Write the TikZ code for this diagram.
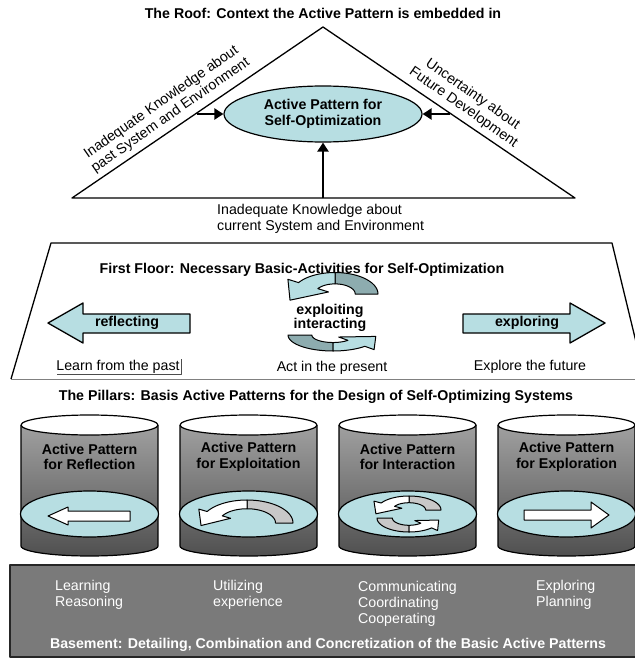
\documentclass[tikz,border=0pt]{standalone}
\usepackage{fontspec}
\setmainfont{Liberation Sans}
\usetikzlibrary{arrows.meta,shapes.geometric}
\definecolor{lblue}{RGB}{183,222,226}
\definecolor{dteal}{RGB}{141,172,175}
\definecolor{lgray}{RGB}{200,200,200}
\definecolor{bgray}{RGB}{122,122,122}
\definecolor{ptop}{RGB}{160,160,160}
\definecolor{pmid}{RGB}{236,236,236}
\definecolor{pbot}{RGB}{80,80,80}

% curved band arrow: #1 cx, #2 cy, #3 sx, #4 sy, #5 rotation, #6 inner ratio, #7 head angle, #8 tail colour, #9 head colour
\newcommand{\bandarrow}[9]{%
 \begin{scope}[shift={(#1,#2)},xscale=#3,yscale=-#4,rotate=#5]
  \pgfmathsetmacro\baC{cos(#7)}\pgfmathsetmacro\baS{sin(#7)}
  \pgfmathsetmacro\baOx{\baC}\pgfmathsetmacro\baOy{0.5*\baS}
  \pgfmathsetmacro\baIx{#6*\baC}\pgfmathsetmacro\baIy{0.5*#6*\baS}
  \pgfmathsetmacro\baDx{\baOx-\baIx}\pgfmathsetmacro\baDy{\baOy-\baIy}
  \pgfmathsetmacro\baDl{sqrt((\baDx)*(\baDx)+(\baDy)*(\baDy))}
  \pgfmathsetmacro\baTx{-\baS}\pgfmathsetmacro\baTy{0.5*\baC}
  \pgfmathsetmacro\baTl{sqrt((\baTx)*(\baTx)+(\baTy)*(\baTy))}
  \pgfmathsetmacro\baPx{0.5*(\baOx+\baIx)+1.15*\baDl*(\baTx)/\baTl}
  \pgfmathsetmacro\baPy{0.5*(\baOy+\baIy)+1.15*\baDl*(\baTy)/\baTl}
  \filldraw[fill=#8,line width=1pt] plot[domain=0:90,samples=19] ({cos(\x)},{0.5*sin(\x)}) -- plot[domain=90:0,samples=19] ({#6*cos(\x)},{0.5*#6*sin(\x)}) -- cycle;
  \filldraw[fill=#9,line width=1pt] plot[domain=90:#7,samples=19] ({cos(\x)},{0.5*sin(\x)}) -- ({\baOx+0.55*(\baDx)},{\baOy+0.55*(\baDy)}) -- (\baPx,\baPy) -- ({\baIx-0.55*(\baDx)},{\baIy-0.55*(\baDy)}) -- plot[domain=#7:90,samples=19] ({#6*cos(\x)},{0.5*#6*sin(\x)}) -- cycle;
 \end{scope}}

\begin{document}
\begin{tikzpicture}[x=1pt,y=-1pt,line join=round,
  every node/.style={font=\fontsize{14.2}{16}\selectfont,inner sep=0pt},
  ttl/.style={font=\fontsize{14.2}{16}\selectfont\bfseries},
  edge/.style={line width=1.3pt},
  fat/.style={line width=2.8pt,-{Triangle[length=9pt,width=11pt]}},
  blob/.style={ellipse,draw,fill=lblue,line width=1.2pt},
  wtxt/.style={text=white,align=left,anchor=west}]
\useasboundingbox (0,0) rectangle (634,658);
\fill[white] (0,0) rectangle (634,658);

% ---------- Roof
\node[ttl] (rooft) at (323,13) {The Roof: Context the Active Pattern is embedded in};
\coordinate (apex) at (323,27);
\coordinate (bl) at (72,198);
\coordinate (br) at (575,198);
\draw[edge] (bl) -- (apex) -- (br) -- cycle;
\node[blob,ttl,align=center,minimum width=198pt,minimum height=56pt] (ap) at (323,114) {Active Pattern for\\Self-Optimization};
\coordinate (la) at (197,114);
\coordinate (ra) at (450,114);
\coordinate (ba) at (323,198);
\draw[fat] (la) -- (ap.west);
\draw[fat] (ra) -- (ap.east);
\draw[fat] (ba) -- (ap.south);
\node[rotate=35,align=center] (past) at (166,109) {Inadequate Knowledge about\\past System and Environment};
\node[rotate=-35,align=center] (fut) at (468,101) {Uncertainty about\\Future Development};
\node[anchor=west,align=left] (cur) at (217,218.5) {Inadequate Knowledge about\\current System and Environment};

% ---------- First floor
\draw[edge] (11,379) -- (51,243) -- (612,243) -- (645,379);
\draw[gray,line width=1pt] (11,379) -- (645,379);
\node[ttl] (fft) at (302,270) {First Floor: Necessary Basic-Activities for Self-Optimization};
\filldraw[fill=lblue,edge] (48,323) -- (83,303) -- (83,314) -- (190,314) -- (190,333) -- (83,333) -- (83,343) -- cycle;
\node[ttl] (refl) at (127,323) {reflecting};
\filldraw[fill=lblue,edge] (605,323) -- (570,303) -- (570,314) -- (463,314) -- (463,333) -- (570,333) -- (570,343) -- cycle;
\node[ttl] (explr) at (527,323) {exploring};
\bandarrow{335}{294}{43}{43}{0}{0.47}{148}{dteal}{lblue}
\bandarrow{333}{335}{45}{32}{180}{0.47}{135}{dteal}{lblue}
\node[ttl,align=center,font=\fontsize{14.2}{14}\selectfont\bfseries] (ei) at (330,318) {exploiting\\interacting};
\node (lp) at (118,367) {Learn from the past};
\draw[black!70,line width=0.6pt] (57,374) -- (181,374) -- (181,359);
\node (aip) at (332,368) {Act in the present};
\node (etf) at (530,367) {Explore the future};

% ---------- Pillars
\node[ttl] (pilt) at (316,397) {The Pillars: Basis Active Patterns for the Design of Self-Optimizing Systems};
\foreach \cx/\t [count=\i] in {89.5/Reflection,248.5/Exploitation,407.5/Interaction,566.5/Exploration}{
  \shade[top color=ptop,middle color=pmid,bottom color=pbot]
    (\cx-68.5,425) -- plot[domain=180:360,samples=30] ({\cx+68.5*cos(\x)},{546-10*sin(\x)}) -- (\cx+68.5,425) -- cycle;
  \draw[line width=1.2pt] (\cx-68.5,425) -- plot[domain=180:360,samples=30] ({\cx+68.5*cos(\x)},{546-10*sin(\x)}) -- (\cx+68.5,425);
  \filldraw[fill=white,line width=1.2pt] (\cx,425) ellipse [x radius=68.5pt,y radius=10pt];
  \node[ttl,align=center,font=\fontsize{14.2}{15.5}\selectfont\bfseries] (pt\i) at (\cx,457) {Active Pattern\\for \t};
  \node[blob,minimum width=138pt,minimum height=46pt] (pe\i) at (\cx,514) {};
}
\filldraw[fill=white,line width=1pt] (48,516) -- (68,507) -- (68,511) -- (130,511) -- (130,521) -- (68,521) -- (68,525) -- cycle;
\filldraw[fill=white,line width=1pt] (609,515) -- (591,502) -- (591,510) -- (524,510) -- (524,520) -- (591,520) -- (591,528) -- cycle;
\bandarrow{247}{523}{46}{46}{0}{0.62}{150}{lgray}{white}
\bandarrow{409}{510}{32}{28}{0}{0.52}{150}{lgray}{white}
\bandarrow{409}{518}{32}{28}{180}{0.52}{135}{lgray}{white}

% ---------- Basement
\filldraw[fill=bgray,draw=black!85,line width=1.8pt] (10,565) rectangle (650,657);
\node[wtxt] (b1) at (55,595) {Learning\\Reasoning};
\node[wtxt] (b2) at (213,595) {Utilizing\\experience};
\node[wtxt] (b3) at (358,603.5) {Communicating\\Coordinating\\Cooperating};
\node[wtxt] (b4) at (536,595) {Exploring\\Planning};
\node[ttl,text=white] (bt) at (328,645) {Basement: Detailing, Combination and Concretization of the Basic Active Patterns};
\end{tikzpicture}
\end{document}
